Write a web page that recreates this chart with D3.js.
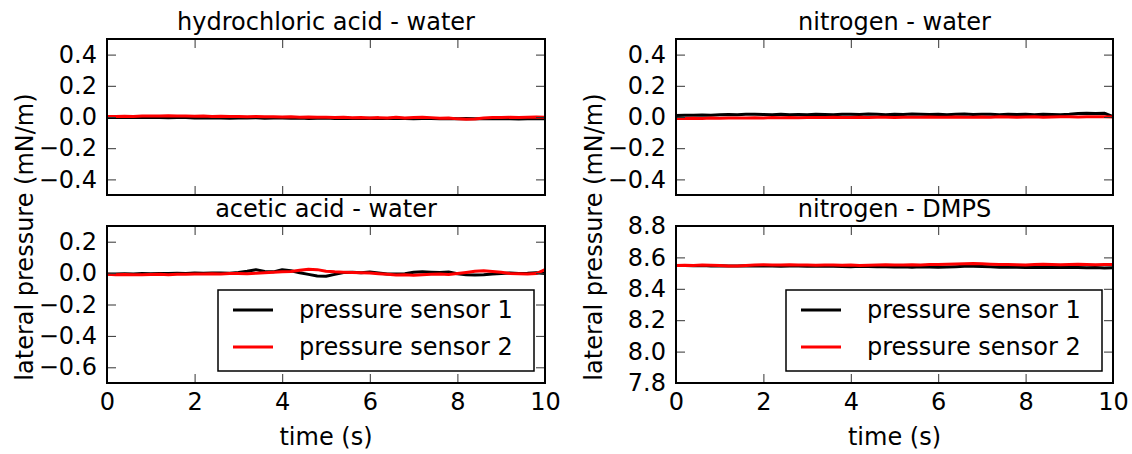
<!DOCTYPE html>
<html lang="en">
<head>
  <meta charset="UTF-8">
  <title>Lateral pressure</title>
  <script src="https://d3js.org/d3.v7.min.js"></script>
  <style>
    body {
      margin: 0;
      background-color: #ffffff;
      font-family: 'DejaVu Sans', sans-serif;
    }
    text {
      fill: #000;
    }
  </style>
</head>
<body>
  <svg width="1132" height="454"></svg>

  <script>
    // time axis (s)
    const time = [0, 0.2, 0.4, 0.6, 0.8, 1, 1.2, 1.4, 1.6, 1.8,
      2, 2.2, 2.4, 2.6, 2.8, 3, 3.2, 3.4, 3.6, 3.8,
      4, 4.2, 4.4, 4.6, 4.8, 5, 5.2, 5.4, 5.6, 5.8,
      6, 6.2, 6.4, 6.6, 6.8, 7, 7.2, 7.4, 7.6, 7.8,
      8, 8.2, 8.4, 8.6, 8.8, 9, 9.2, 9.4, 9.6, 9.8, 10];

    // hydrochloric acid - water
    const hclSensor1 = [-0.003, -0.004, -0.002, -0.004, -0.003, -0.002, -0.003, -0.005, -0.004, -0.003,
      -0.006, -0.005, -0.007, -0.006, -0.008, -0.006, -0.007, -0.005, -0.008, -0.007,
      -0.006, -0.008, -0.007, -0.009, -0.008, -0.007, -0.009, -0.008, -0.010, -0.009,
      -0.008, -0.010, -0.009, -0.008, -0.010, -0.011, -0.009, -0.010, -0.012, -0.010,
      -0.011, -0.009, -0.012, -0.011, -0.010, -0.012, -0.011, -0.013, -0.012, -0.011, -0.012];
    const hclSensor2 = [0.004, 0.003, 0.005, 0.004, 0.006, 0.007, 0.006, 0.008, 0.007, 0.006,
      0.005, 0.006, 0.004, 0.005, 0.003, 0.004, 0.002, 0.003, 0.001, 0.002,
      0.000, 0.001, -0.001, 0.000, -0.002, -0.001, -0.003, -0.002, -0.005, -0.003,
      -0.006, -0.004, -0.007, -0.002, -0.006, -0.003, -0.001, -0.004, -0.008, -0.006,
      -0.012, -0.015, -0.013, -0.006, -0.003, -0.004, -0.002, -0.003, -0.001, 0.000, -0.001];

    // acetic acid - water
    const aceticSensor1 = [-0.005, -0.006, -0.004, -0.005, -0.003, -0.004, -0.002, -0.003, -0.001, -0.002,
      0.000, -0.001, 0.001, 0.000, -0.001, 0.004, 0.012, 0.022, 0.010, 0.008,
      0.021, 0.015, 0.002, -0.008, -0.018, -0.020, -0.008, 0.004, 0.006, 0.003,
      0.007, 0.001, -0.005, -0.006, -0.004, 0.005, 0.008, 0.006, 0.004, 0.007,
      -0.004, -0.010, -0.012, -0.010, -0.006, -0.002, 0.001, -0.002, -0.001, 0.002, -0.003];
    const aceticSensor2 = [-0.008, -0.010, -0.009, -0.011, -0.010, -0.009, -0.008, -0.010, -0.007, -0.008,
      -0.005, -0.006, -0.004, -0.005, -0.003, -0.002, -0.004, -0.001, 0.002, 0.005,
      0.008, 0.010, 0.018, 0.025, 0.022, 0.012, 0.008, 0.006, 0.004, 0.003,
      0.000, -0.004, -0.008, -0.012, -0.010, -0.014, -0.011, -0.008, -0.006, -0.009,
      -0.003, 0.004, 0.012, 0.015, 0.010, 0.005, -0.002, -0.004, -0.006, -0.003, 0.022];

    // nitrogen - water
    const n2WaterSensor1 = [0.010, 0.012, 0.011, 0.013, 0.012, 0.014, 0.016, 0.015, 0.018, 0.017,
      0.016, 0.015, 0.017, 0.014, 0.016, 0.015, 0.017, 0.016, 0.015, 0.018,
      0.017, 0.016, 0.019, 0.017, 0.015, 0.018, 0.016, 0.019, 0.017, 0.016,
      0.018, 0.015, 0.017, 0.019, 0.016, 0.018, 0.017, 0.015, 0.018, 0.016,
      0.017, 0.015, 0.018, 0.016, 0.015, 0.017, 0.022, 0.024, 0.023, 0.024, 0.002];
    const n2WaterSensor2 = [-0.009, -0.010, -0.008, -0.009, -0.007, -0.008, -0.006, -0.007, -0.006, -0.005,
      -0.006, -0.004, -0.005, -0.004, -0.005, -0.003, -0.004, -0.003, -0.002, -0.004,
      -0.003, -0.002, -0.003, -0.001, -0.002, -0.003, -0.001, -0.002, -0.001, 0.000,
      -0.002, -0.001, 0.000, -0.001, -0.002, 0.000, -0.001, 0.001, 0.000, -0.001,
      0.000, 0.001, -0.001, 0.000, 0.001, 0.002, 0.000, 0.001, 0.002, 0.001, 0.000];

    // nitrogen - DMPS
    const n2DmpsSensor1 = [8.549, 8.548, 8.547, 8.548, 8.546, 8.547, 8.545, 8.546, 8.547, 8.546,
      8.545, 8.546, 8.544, 8.545, 8.546, 8.544, 8.545, 8.543, 8.544, 8.542,
      8.541, 8.543, 8.542, 8.540, 8.541, 8.539, 8.540, 8.538, 8.540, 8.539,
      8.537, 8.539, 8.541, 8.543, 8.544, 8.542, 8.540, 8.538, 8.539, 8.537,
      8.536, 8.538, 8.536, 8.535, 8.537, 8.535, 8.536, 8.534, 8.535, 8.533, 8.534];
    const n2DmpsSensor2 = [8.549, 8.550, 8.549, 8.551, 8.550, 8.548, 8.546, 8.545, 8.549, 8.552,
      8.553, 8.551, 8.552, 8.553, 8.551, 8.552, 8.550, 8.551, 8.552, 8.550,
      8.551, 8.549, 8.550, 8.551, 8.553, 8.552, 8.551, 8.553, 8.552, 8.554,
      8.555, 8.556, 8.558, 8.560, 8.561, 8.559, 8.556, 8.554, 8.555, 8.553,
      8.552, 8.554, 8.556, 8.555, 8.553, 8.554, 8.556, 8.554, 8.553, 8.555, 8.554];

    const titles = ["hydrochloric acid - water", "nitrogen - water", "acetic acid - water", "nitrogen - DMPS"];
    const xTicks = [0, 2, 4, 6, 8, 10];
    const yTicksTop = [-0.4, -0.2, 0.0, 0.2, 0.4];
    const yTicksAcetic = [-0.6, -0.4, -0.2, 0.0, 0.2];
    const yTicksDmps = [7.8, 8.0, 8.2, 8.4, 8.6, 8.8];
    const legendLabels = ["pressure sensor 1", "pressure sensor 2"];
    const sensorColors = ["#000000", "#ff0000"];

    const svg = d3.select("svg");

    // panel boxes in pixels
    const cols = [[107, 545], [676, 1113]];
    const rows = [[39, 195], [226, 383]];

    const panels = [
      {title: titles[0], col: 0, row: 0, domain: [-0.5, 0.5], ticks: yTicksTop, series: [hclSensor1, hclSensor2]},
      {title: titles[1], col: 1, row: 0, domain: [-0.5, 0.5], ticks: yTicksTop, series: [n2WaterSensor1, n2WaterSensor2]},
      {title: titles[2], col: 0, row: 1, domain: [-0.7, 0.3], ticks: yTicksAcetic, series: [aceticSensor1, aceticSensor2], legend: true},
      {title: titles[3], col: 1, row: 1, domain: [7.8, 8.8], ticks: yTicksDmps, series: [n2DmpsSensor1, n2DmpsSensor2], legend: true}
    ];

    const fmt = d => d3.format(".1f")(d).replace("-", "\u2212");
    const fontSize = 24;
    const tickLen = 9;

    panels.forEach(function(p, i) {
      const [x0, x1] = cols[p.col];
      const [y0, y1] = rows[p.row];
      const w = x1 - x0, h = y1 - y0;

      const x = d3.scaleLinear().domain([0, 10]).range([0, w]);
      const y = d3.scaleLinear().domain(p.domain).range([h, 0]);

      const g = svg.append("g").attr("transform", "translate(" + x0 + "," + y0 + ")");

      g.append("clipPath").attr("id", "clip" + i)
        .append("rect").attr("width", w).attr("height", h);

      // data lines
      const line = d3.line().x((d, j) => x(time[j])).y(d => y(d));
      p.series.forEach(function(s, k) {
        g.append("path")
          .datum(s)
          .attr("clip-path", "url(#clip" + i + ")")
          .attr("fill", "none")
          .attr("stroke", sensorColors[k])
          .attr("stroke-width", 3)
          .attr("stroke-linejoin", "round")
          .attr("d", line);
      });

      // axes, ticks inward on every side
      const showX = p.row === 1;
      const bottom = g.append("g").attr("transform", "translate(0," + h + ")")
        .call(d3.axisBottom(x).tickValues(xTicks).tickSizeInner(-tickLen).tickSizeOuter(0)
          .tickPadding(10).tickFormat(showX ? d3.format("d") : ""));
      const top = g.append("g")
        .call(d3.axisTop(x).tickValues(xTicks).tickSizeInner(-tickLen).tickSizeOuter(0).tickFormat(""));
      const left = g.append("g")
        .call(d3.axisLeft(y).tickValues(p.ticks).tickSizeInner(-tickLen).tickSizeOuter(0)
          .tickPadding(10).tickFormat(fmt));
      const right = g.append("g").attr("transform", "translate(" + w + ",0)")
        .call(d3.axisRight(y).tickValues(p.ticks).tickSizeInner(-tickLen).tickSizeOuter(0).tickFormat(""));

      [bottom, top, left, right].forEach(function(a) {
        a.select(".domain").remove();
        a.selectAll(".tick line").attr("stroke", "#333").attr("stroke-width", 1);
        a.selectAll(".tick text")
          .style("font-family", "'DejaVu Sans', sans-serif")
          .style("font-size", fontSize + "px")
          .attr("fill", "#000");
      });

      // frame
      g.append("rect")
        .attr("width", w).attr("height", h)
        .attr("fill", "none").attr("stroke", "#000").attr("stroke-width", 2);

      // title
      g.append("text")
        .attr("x", w / 2).attr("y", -9)
        .attr("text-anchor", "middle")
        .style("font-size", fontSize + "px")
        .text(p.title);

      if (showX) {
        g.append("text")
          .attr("x", w / 2).attr("y", h + 62)
          .attr("text-anchor", "middle")
          .style("font-size", fontSize + "px")
          .text("time (s)");
      }

      if (p.legend) {
        const lw = 316, lh = 81;
        const lg = g.append("g").attr("transform", "translate(" + (w - 11 - lw) + "," + (h - 12 - lh) + ")");
        lg.append("rect").attr("width", lw).attr("height", lh)
          .attr("fill", "#fff").attr("stroke", "#000").attr("stroke-width", 1.5);
        legendLabels.forEach(function(lab, k) {
          const ly = 20 + k * 37;
          lg.append("line").attr("x1", 15).attr("x2", 55).attr("y1", ly).attr("y2", ly)
            .attr("stroke", sensorColors[k]).attr("stroke-width", 3);
          lg.append("text").attr("x", 81).attr("y", ly).attr("dy", "0.35em")
            .style("font-size", fontSize + "px")
            .text(lab);
        });
      }
    });

    // shared y labels
    [25, 594].forEach(function(lx) {
      svg.append("text")
        .attr("transform", "translate(" + lx + ",237) rotate(-90)")
        .attr("text-anchor", "middle")
        .attr("dy", "0.35em")
        .style("font-size", fontSize + "px")
        .text("lateral pressure (mN/m)");
    });
  </script>
</body>
</html>
